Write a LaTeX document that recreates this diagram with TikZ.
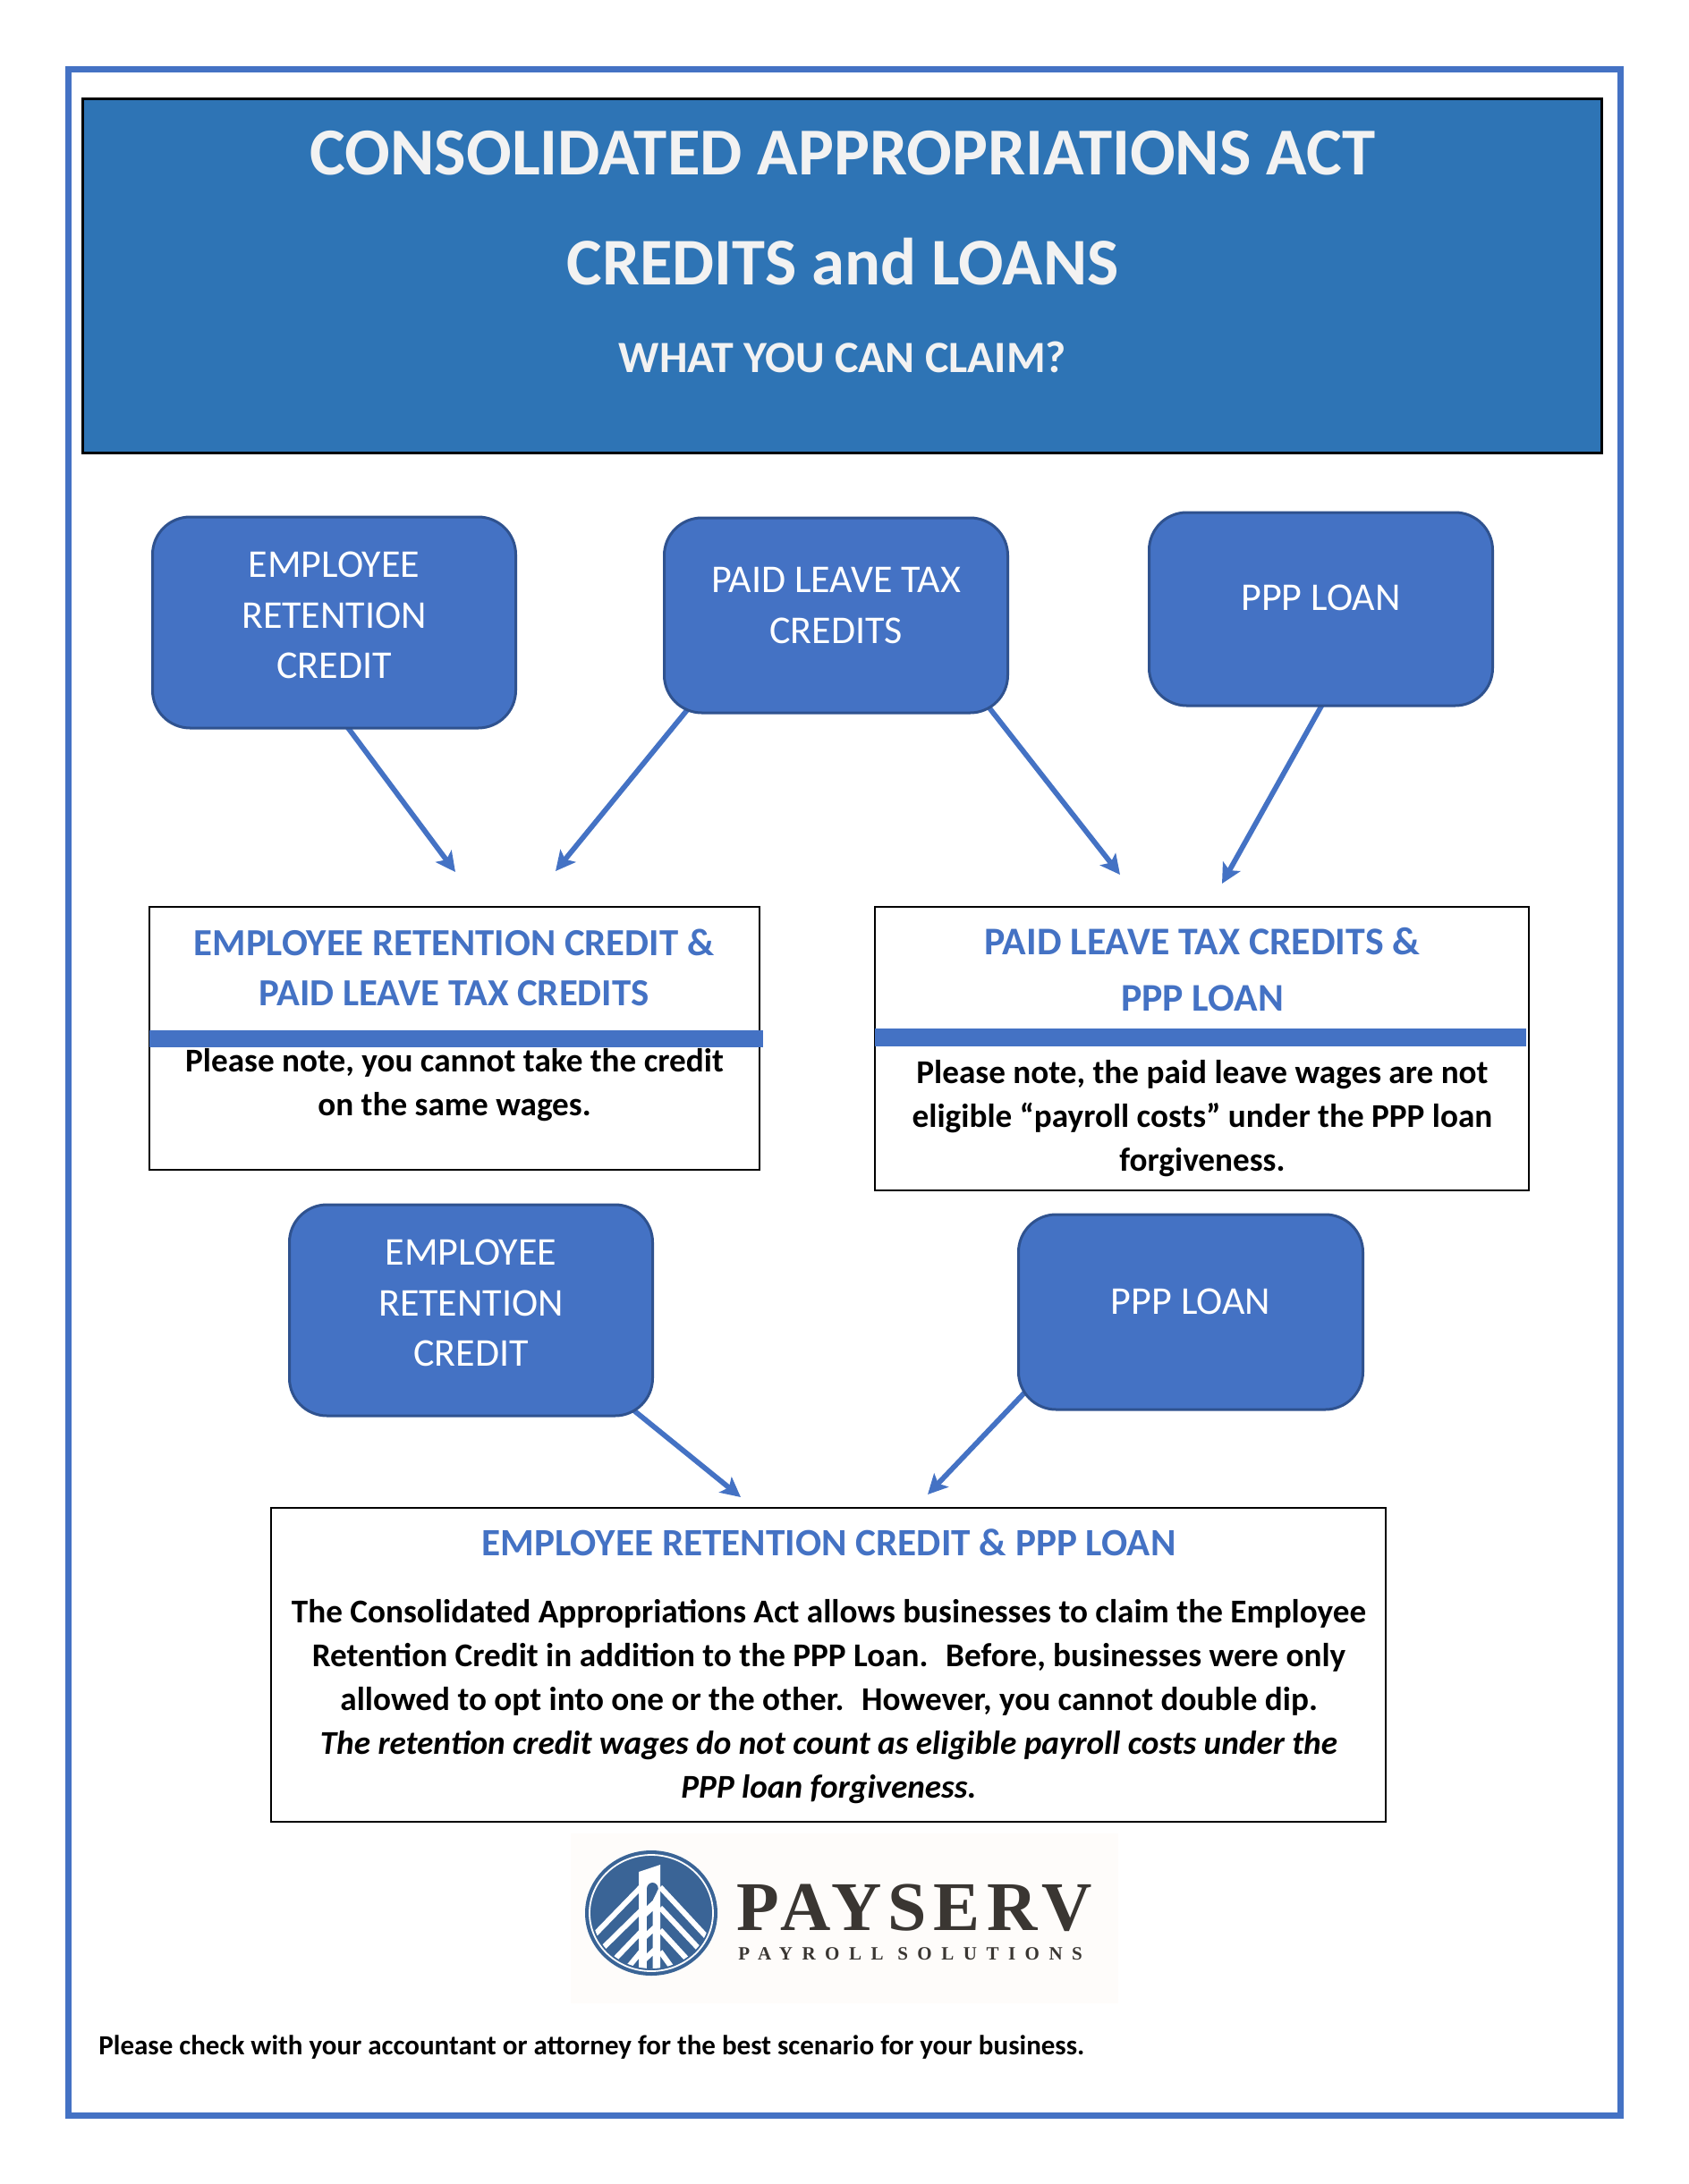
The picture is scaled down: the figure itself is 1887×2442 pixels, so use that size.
\documentclass[tikz,border=0pt]{standalone}
\usepackage{fontspec}
\setmainfont{Carlito}
\newfontfamily\logofont[LetterSpace=9.5]{Liberation Serif}
\newfontfamily\logosubfont[LetterSpace=50]{Liberation Serif}
\usetikzlibrary{arrows.meta, backgrounds}
\definecolor{paybox}{HTML}{4472C4}
\definecolor{payedge}{HTML}{2F528F}
\definecolor{payhead}{HTML}{2E74B5}
\definecolor{paytext}{HTML}{F2F2F2}
\definecolor{paylogo}{HTML}{3A6496}
\definecolor{paydark}{HTML}{3A3632}
\definecolor{paypaper}{HTML}{FEFCFA}

\begin{document}
\begin{tikzpicture}[
    x=0.5pt, y=-0.5pt,
    creditbox/.style={rectangle, draw=payedge, fill=paybox, line width=1.5pt, rounded corners=21pt, inner sep=0pt, align=center, text=white, font=\fontsize{22}{28.3}\selectfont},
    panel/.style={rectangle, draw=black, line width=1pt, fill=white, inner sep=0pt},
    headtext/.style={anchor=base, inner sep=0pt, align=center, text=paybox, font=\fontsize{21.6}{28}\selectfont\bfseries},
    notetext/.style={anchor=base, inner sep=0pt, align=center, font=\fontsize{18.6}{24.4}\selectfont\bfseries},
    titletext/.style={anchor=base, inner sep=0pt, text=paytext},
    link/.style={-{Stealth[length=11pt, width=11pt, inset=2.5pt]}, line width=2.9pt, color=paybox, shorten <=-8pt}
]
\useasboundingbox (0,0) rectangle (1887,2442);
\draw[paybox, line width=3.5pt] (76,77) rectangle (1811,2365);

% header
\node[rectangle, draw=black, line width=1.5pt, fill=payhead, minimum width=849pt, minimum height=198pt] (header) at (941,308) {};
\node[titletext, font=\fontsize{37.5}{40}\selectfont\bfseries] (title) at (942,195) {CONSOLIDATED APPROPRIATIONS ACT};
\node[titletext, font=\fontsize{37.3}{40}\selectfont\bfseries] (subtitle) at (942,318) {CREDITS and LOANS};
\node[titletext, font=\fontsize{25}{28}\selectfont\bfseries] (question) at (942,416) {WHAT YOU CAN CLAIM?};

% top row
\node[creditbox, minimum width=203pt, minimum height=118pt, text depth=8pt] (boxA) at (373.5,696) {EMPLOYEE\\RETENTION\\CREDIT};
\node[creditbox, minimum width=192pt, minimum height=109pt, text depth=11pt] (boxB) at (934.5,688) {PAID LEAVE TAX\\CREDITS};
\node[creditbox, minimum width=192pt, minimum height=108pt, text depth=13pt] (boxC) at (1476.5,681) {PPP LOAN};

% panels
\node[panel, minimum width=341pt, minimum height=147pt] (panelA) at (508,1161) {};
\fill[paybox] (167,1152) rectangle (853,1171);
\node[headtext, font=\fontsize{21.4}{28}\selectfont\bfseries] (headA) at (507.5,1124) {EMPLOYEE RETENTION CREDIT \&\\PAID LEAVE TAX CREDITS};
\node[notetext] (noteA) at (508,1247) {Please note, you cannot take the credit\\on the same wages.};

\node[panel, minimum width=365.5pt, minimum height=158.5pt] (panelB) at (1343.5,1172.5) {};
\fill[paybox] (978,1150) rectangle (1706,1170);
\node[headtext, font=\fontsize{21.9}{31.5}\selectfont\bfseries] (headB) at (1344,1130) {PAID LEAVE TAX CREDITS \&\\PPP LOAN};
\node[notetext] (noteB) at (1344,1309) {Please note, the paid leave wages are not\\eligible “payroll costs” under the PPP loan\\forgiveness.};

% second row
\node[creditbox, minimum width=203pt, minimum height=118pt, text depth=8pt] (boxD) at (526.5,1465) {EMPLOYEE\\RETENTION\\CREDIT};
\node[creditbox, minimum width=192.5pt, minimum height=109pt, text depth=11.5pt] (boxE) at (1331,1467) {PPP LOAN};

\node[panel, minimum width=623pt, minimum height=175.5pt] (panelC) at (926,1861.5) {};
\node[headtext] (headC) at (926.5,1739.5) {EMPLOYEE RETENTION CREDIT \& PPP LOAN};
\node[notetext] (noteC) at (926.5,2010) {The Consolidated Appropriations Act allows businesses to claim the Employee\\Retention Credit in addition to the PPP Loan.~ Before, businesses were only\\allowed to opt into one or the other.~ However, you cannot double dip.\\\itshape The retention credit wages do not count as eligible payroll costs under the\\\itshape PPP loan forgiveness.};

% arrows
\coordinate (tipA) at (509,975);
\coordinate (tipB) at (621,974);
\coordinate (tipC) at (1252,978);
\coordinate (tipD) at (1366,988);
\coordinate (tipE) at (828,1674);
\coordinate (tipF) at (1037,1671);
\begin{pgfonlayer}{background}
\draw[link] (boxA.-82) -- (tipA);
\draw[link] (boxB.-147) -- (tipB);
\draw[link] (boxB.-32) -- (tipC);
\draw[link] (boxC.south) -- (tipD);
\draw[link] (boxD.-32) -- (tipE);
\draw[link] (boxE.-153) -- (tipF);
\end{pgfonlayer}

% logo
\fill[paypaper] (638,2050) rectangle (1250,2240);
\fill[paylogo] (728,2139) ellipse [x radius=37pt, y radius=35pt];
\draw[white, line width=0.9pt] (728,2139) ellipse [x radius=34.5pt, y radius=32.5pt];
\begin{scope}
\clip (728,2139) ellipse [x radius=33pt, y radius=31pt];
\foreach \ya/\xb/\yb in {2110/660/2168, 2137/669/2183, 2160/683/2195, 2180/696/2207} {
    \draw[white, line width=3pt] (730,\ya-14) -- (\xb,\yb);
}
\foreach \ya/\xb/\yb in {2110/792/2168, 2133/785/2183, 2158/772/2195, 2182/756/2207} {
    \draw[white, line width=3pt] (738,\ya) -- (\xb,\yb);
}
\fill[white] (714,2093) -- (738,2085) -- (738,2215) -- (714,2215) -- cycle;
\fill[paylogo] (723,2112) arc[start angle=180, end angle=0, x radius=3.2pt, y radius=3.5pt] -- (729.5,2125) -- (723,2131) -- cycle;
\foreach \ya in {2143, 2168, 2193} {
    \fill[paylogo] (723,\ya) -- (729.5,\ya-6) -- (729.5,\ya+10) -- (723,\ya+16) -- cycle;
}
\end{scope}
\node[anchor=base west, inner sep=0pt, text=paydark, font=\fontsize{39}{40}\logofont\bfseries\selectfont] (brand) at (823,2158) {PAYSERV};
\node[anchor=base west, inner sep=0pt, text=paydark, font=\fontsize{10.5}{12}\logosubfont\bfseries\selectfont] (brandsub) at (825,2191) {PAYROLL SOLUTIONS};

\node[anchor=base west, inner sep=0pt, font=\fontsize{15.5}{20}\selectfont\bfseries] (footer) at (110,2297) {Please check with your accountant or attorney for the best scenario for your business.};
\end{tikzpicture}
\end{document}
